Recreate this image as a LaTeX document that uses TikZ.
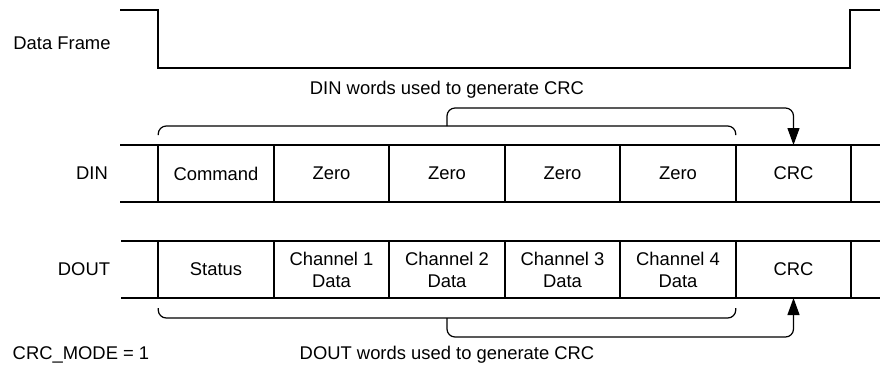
\documentclass[tikz,border=0pt]{standalone}
\usepackage{fontspec}
\setmainfont{Liberation Sans}
\usepackage{tikz}
\usetikzlibrary{positioning, arrows.meta}

\begin{document}
\begin{tikzpicture}[x=0.5pt, y=-0.5pt, font=\fontsize{9.2}{11}\selectfont,
    cell/.style={draw, line width=1pt, minimum width=57.75pt, minimum height=28.5pt,
                 inner sep=0pt, outer sep=0pt, align=center},
    rowline/.style={line width=1pt},
    signal/.style={line width=1.2pt},
    brace/.style={line width=0.6pt, rounded corners=4pt},
    link/.style={brace, -{Triangle[length=8.5pt, width=6pt]}}]
    \useasboundingbox (0,0) rectangle (880,366);

    % data frame signal
    \draw[signal] (120,10) -- (158,10) -- (158,68) -- (850,68) -- (850,10) -- (880,10);
    \node (frame) at (62,43) {Data Frame};

    % DIN words
    \draw[rowline] (120,145) -- (880,145) (120,202) -- (880,202);
    \node (dinlabel) at (92,173.5) {DIN};
    \node[cell] (din1) at (216,173.5) {Command};
    \node[cell, right=0pt of din1] (din2) {Zero};
    \node[cell, right=0pt of din2] (din3) {Zero};
    \node[cell, right=0pt of din3] (din4) {Zero};
    \node[cell, right=0pt of din4] (din5) {Zero};
    \node[cell, right=0pt of din5] (din6) {CRC};

    % DOUT words
    \draw[rowline] (121,241) -- (880,241) (121,298) -- (880,298);
    \node (doutlabel) at (84,269.5) {DOUT};
    \node[cell] (dout1) at (216,269.5) {Status};
    \node[cell, right=0pt of dout1] (dout2) {Channel 1\\Data};
    \node[cell, right=0pt of dout2] (dout3) {Channel 2\\Data};
    \node[cell, right=0pt of dout3] (dout4) {Channel 3\\Data};
    \node[cell, right=0pt of dout4] (dout5) {Channel 4\\Data};
    \node[cell, right=0pt of dout5] (dout6) {CRC};

    % brace over DIN words
    \coordinate (dinmid) at ([yshift=9.5pt]din3.north);
    \coordinate (dintop) at ([yshift=18.5pt]din3.north);
    \draw[brace] ([yshift=5pt]din1.north west) -- ([yshift=9.5pt]din1.north west)
        -- ([yshift=9.5pt]din5.north east) -- ([yshift=5pt]din5.north east);
    \draw[link] (dinmid) -- (dintop) -- (dintop -| din6.north) -- (din6.north);
    \node (dinnote) at (447,90) {DIN words used to generate CRC};

    % brace under DOUT words
    \coordinate (doutmid) at ([yshift=-10pt]dout3.south);
    \coordinate (doutbot) at ([yshift=-19.5pt]dout3.south);
    \draw[brace] ([yshift=-5pt]dout1.south west) -- ([yshift=-10pt]dout1.south west)
        -- ([yshift=-10pt]dout5.south east) -- ([yshift=-5pt]dout5.south east);
    \draw[link] (doutmid) -- (doutbot) -- (doutbot -| dout6.south) -- (dout6.south);
    \node (doutnote) at (447,355) {DOUT words used to generate CRC};

    \node (mode) at (81,355) {CRC\_MODE = 1};
\end{tikzpicture}
\end{document}
